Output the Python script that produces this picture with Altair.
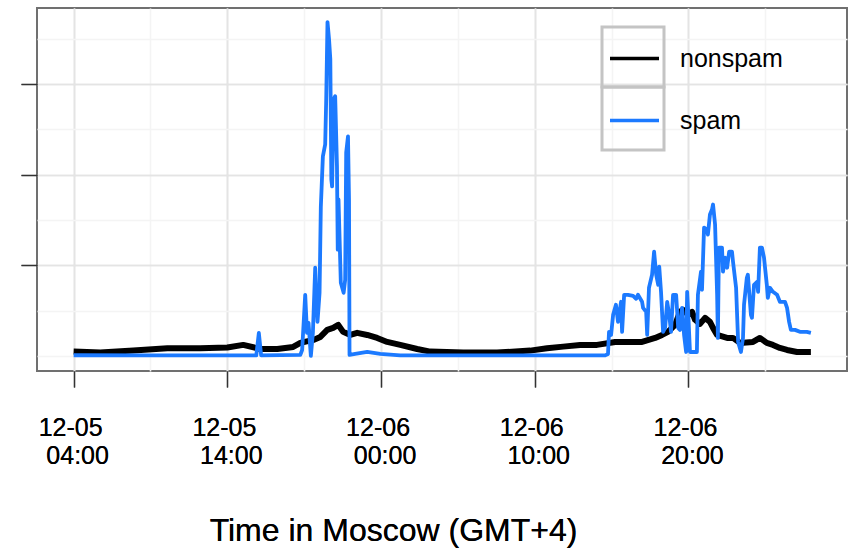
import altair as alt
import pandas as pd

series_names = ["nonspam", "spam"]
series_colors = ["#000000", "#1c7aff"]

# minutes after 2011-12-05 04:00 (Moscow time) and tweet counts
nonspam_min = [0, 104, 233, 366, 494, 600, 662, 729, 795, 857, 885, 936, 963, 990, 1013,
               1033, 1052, 1080, 1107, 1146, 1185, 1224, 1275, 1341, 1392, 1521, 1653, 1782,
               1848, 1911, 1977, 2043, 2114, 2164, 2219, 2270, 2297, 2320, 2348, 2367, 2379,
               2399, 2414, 2426, 2445, 2465, 2484, 2496, 2512, 2551, 2574, 2601, 2652, 2679,
               2706, 2730, 2757, 2785, 2824, 2878]
nonspam_val = [48, 37, 59, 85, 85, 94, 122, 77, 77, 100, 144, 177, 210, 288, 310,
               343, 266, 232, 255, 232, 199, 155, 122, 77, 48, 37, 37, 59,
               85, 103, 122, 122, 155, 155, 155, 199, 232, 266, 343, 487, 509,
               454, 487, 399, 354, 421, 376, 310, 232, 199, 199, 144, 155, 199,
               144, 122, 89, 66, 44, 44]

spam_min = [0, 299, 572, 713, 723, 732, 885, 892, 904, 911, 917, 926, 934, 943, 952, 960,
            965, 973, 982, 986, 991, 997, 1002, 1006, 1009, 1015, 1021, 1028, 1031, 1034,
            1043, 1054, 1060, 1064, 1071, 1075, 1077, 1099, 1146, 1197, 1275, 1665, 2075,
            2086, 2090, 2098, 2106, 2117, 2125, 2137, 2141, 2149, 2164, 2184, 2196, 2203,
            2219, 2223, 2235, 2239, 2246, 2258, 2266, 2274, 2282, 2286, 2293, 2301, 2309,
            2317, 2325, 2332, 2340, 2352, 2360, 2367, 2375, 2383, 2391, 2395, 2399, 2406,
            2433, 2437, 2449, 2453, 2461, 2472, 2476, 2484, 2492, 2496, 2504, 2512, 2515,
            2519, 2531, 2535, 2543, 2551, 2559, 2570, 2574, 2586, 2594, 2605, 2613, 2617,
            2628, 2632, 2644, 2648, 2656, 2668, 2672, 2679, 2687, 2695, 2706, 2710, 2718,
            2730, 2746, 2757, 2777, 2785, 2793, 2800, 2816, 2835, 2862, 2878]
spam_val = [8, 6, 6, 6, 255, 6, 11, 66, 675, 255, 365, 0, 255, 974, 376, 697,
            1649, 2203, 2336, 2834, 3686, 3498, 3277, 1948, 1871, 2834, 2867, 2092, 1173, 1727,
            808, 697, 841, 2247, 2424, 1727, 11, 22, 44, 22, 6, 6, 6,
            22, 266, 232, 454, 565, 376, 598, 266, 675, 675, 664, 631, 675,
            598, 531, 487, 232, 753, 897, 1151, 897, 786, 985, 708, 266, 310,
            598, 454, 266, 675, 675, 310, 288, 531, 232, 44, 708, 487, 44,
            44, 675, 930, 731, 1417, 1395, 1339, 1561, 1616, 1672, 1450, 675, 199,
            1196, 1196, 930, 1085, 974, 1151, 1151, 1041, 753, 155, 44, 199, 565,
            863, 897, 454, 421, 786, 819, 708, 1196, 1196, 1085, 786, 642, 753,
            708, 675, 598, 598, 531, 376, 288, 288, 266, 266, 255]

x_domain_min = [-143, 3019]
y_domain = [-166, 3841]
y_major = [1000, 2000, 3000]
y_minor = [0, 500, 1500, 2500, 3500]
x_major = [(5, 4), (5, 14), (6, 0), (6, 10), (6, 20)]
x_minor = [(5, 9), (5, 19), (6, 5), (6, 15), (7, 1)]

base_ms = int(pd.Timestamp("2011-12-05T04:00:00Z").value // 10**6)


def to_ms(m):
    return base_ms + int(m) * 60000


rows = []
for m, v in zip(nonspam_min, nonspam_val):
    rows.append({"t": to_ms(m), "v": v, "series": "nonspam"})
for m, v in zip(spam_min, spam_val):
    rows.append({"t": to_ms(m), "v": v, "series": "spam"})
df = pd.DataFrame(rows)

FONT = "Liberation Sans"
xscale = alt.Scale(type="utc", domain=[to_ms(x_domain_min[0]), to_ms(x_domain_min[1])])
yscale = alt.Scale(domain=y_domain, nice=False, zero=False)


def dt(d, h):
    return alt.DateTime(year=2011, month=12, date=d, hours=h, utc=True)


# non-breaking space guarded by a zero-width space so it survives trimming
pad_after = "\u00a0\u200b"
pad_before = "\u200b\u00a0"
label_expr = ("[utcFormat(datum.value, '%m-%d') + '" + pad_after + "', '" + pad_before +
              "' + utcFormat(datum.value, '%H:%M')]")

x_main = alt.X(
    "t:T", scale=xscale,
    axis=alt.Axis(
        orient="bottom",
        values=[dt(d, h) for d, h in x_major], grid=True, gridColor="#e4e4e4", gridWidth=1.6,
        domain=False, ticks=True, tickSize=16, tickColor="#333333", tickWidth=1.3,
        labelExpr=label_expr, labelFont=FONT, labelFontSize=25, labelColor="#000000",
        labelPadding=28, labelBaseline="top", labelLineHeight=28, labelAlign="center",
        labelFlush=False, labelOverlap=False,
        title="Time in Moscow (GMT+4)", titleFont=FONT, titleFontSize=32,
        titleFontWeight="normal", titleColor="#000000", titleX=356, titleY=169,
        titleBaseline="alphabetic", titleAlign="center", titleAngle=0,
    ),
)
y_main = alt.Y(
    "v:Q", scale=yscale,
    axis=alt.Axis(orient="left", values=y_major, grid=True, gridColor="#e4e4e4", gridWidth=1.6,
                  domain=False, ticks=True, tickSize=16, tickColor="#333333", tickWidth=1.3,
                  labels=False, title=None),
)
x_min = alt.X("t:T", scale=xscale,
              axis=alt.Axis(orient="top", values=[dt(d, h) for d, h in x_minor], grid=True,
                            gridColor="#f4f4f4", gridWidth=1.6, domain=False, ticks=False,
                            labels=False, title=None))
y_min = alt.Y("v:Q", scale=yscale,
              axis=alt.Axis(orient="right", values=y_minor, grid=True, gridColor="#f4f4f4",
                            gridWidth=1.6, domain=False, ticks=False, labels=False, title=None))

color = alt.Color(
    "series:N",
    scale=alt.Scale(domain=series_names, range=series_colors),
    legend=alt.Legend(
        orient="none", legendX=571, legendY=24, title=None, symbolType="stroke",
        symbolSize=2401, symbolStrokeWidth=3.5, labelFont=FONT, labelFontSize=25,
        labelColor="#000000", labelOffset=19, rowPadding=22, padding=0,
        direction="vertical",
    ),
)

base = alt.Chart(df)
minor = base.mark_point(opacity=0).encode(x=x_min, y=y_min)
line_non = base.transform_filter(alt.datum.series == "nonspam").mark_line(
    strokeWidth=6, strokeJoin="round").encode(x=x_main, y=y_main, color=color)
line_spam = base.transform_filter(alt.datum.series == "spam").mark_line(
    strokeWidth=3.8, strokeJoin="round").encode(x=x_main, y=y_main, color=color)

box_df = pd.DataFrame({"k": [0]})
box1 = alt.Chart(box_df).mark_rect(fillOpacity=0, stroke="#c4c4c4", strokeWidth=3).encode(
    x=alt.value(565), x2=alt.value(627), y=alt.value(19), y2=alt.value(79))
box2 = alt.Chart(box_df).mark_rect(fillOpacity=0, stroke="#c4c4c4", strokeWidth=3).encode(
    x=alt.value(565), x2=alt.value(627), y=alt.value(79), y2=alt.value(142))

chart = alt.layer(minor, line_non, line_spam, box1, box2).resolve_axis(
    x="independent", y="independent"
).properties(
    width=810, height=363,
    autosize=alt.AutoSizeParams(type="none"),
    padding={"left": 37, "top": 8, "right": 6, "bottom": 177},
    background="#ffffff",
).configure_view(stroke="#707070", strokeWidth=2)

chart.save("out.html", embed_options={"renderer": "svg", "actions": False})
